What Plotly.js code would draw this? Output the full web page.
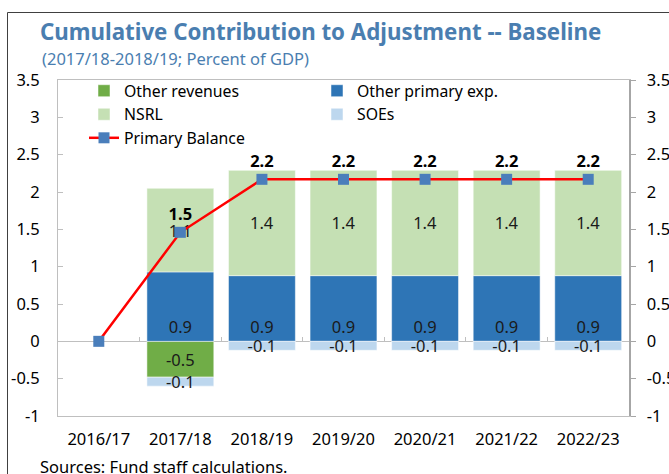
<!DOCTYPE html>
<html>
<head>
<meta charset="utf-8">
<script src="https://cdn.plot.ly/plotly-3.0.1.min.js"></script>
<style>html,body{margin:0;padding:0;background:#fff;overflow:hidden}#chart{width:669px;height:474px}</style>
</head>
<body>
<div id="chart"></div>
<script>
const categories = ['2016/17','2017/18','2018/19','2019/20','2020/21','2021/22','2022/23'];
const otherRevenues = [null, -0.48, 0, 0, 0, 0, 0];
const otherPrimaryExp = [null, 0.93, 0.88, 0.88, 0.88, 0.88, 0.88];
const nsrl = [null, 1.12, 1.41, 1.41, 1.41, 1.41, 1.41];
const soes = [null, -0.12, -0.12, -0.12, -0.12, -0.12, -0.12];
const primaryBalance = [0, 1.46, 2.17, 2.17, 2.17, 2.17, 2.17];
const primaryBalanceLabels = ['', '1.5', '2.2', '2.2', '2.2', '2.2', '2.2'];
const yTickVals = [-1, -0.5, 0, 0.5, 1, 1.5, 2, 2.5, 3, 3.5];
const yTickText = ['-1', '-0.5', '0', '0.5', '1', '1.5', '2', '2.5', '3', '3.5'];

const FONT = 'Noto Sans, Open Sans, sans-serif';
const FS = 16.5;
const lbl = arr => arr.map(v => (v === null || v === 0) ? '' : v.toFixed(1));

function barTrace(name, y, color, anchor) {
  return {
    type: 'bar', name: name, x: categories, y: y, marker: {color: color, line: {color: '#ffffff', width: 0.5}},
    text: lbl(y), textposition: 'inside', insidetextanchor: anchor, constraintext: 'none',
    textangle: 0, insidetextfont: {family: FONT, size: FS, color: '#1a1a1a'}, hoverinfo: 'x+y+name'
  };
}

const traces = [
  barTrace('Other revenues', otherRevenues, '#70AD47', 'middle'),
  barTrace('Other primary exp.', otherPrimaryExp, '#2E75B6', 'start'),
  barTrace('NSRL', nsrl, '#C5E0B4', 'middle'),
  barTrace('SOEs', soes, '#BDD7EE', 'middle'),
  {
    type: 'scatter', mode: 'lines+markers+text', name: 'Primary Balance', x: categories, y: primaryBalance,
    line: {color: '#FF0000', width: 2.5}, marker: {symbol: 'square', size: 11, color: '#4A7EBB'},
    text: primaryBalanceLabels, textposition: 'top center',
    textfont: {family: FONT, size: FS, color: '#000', weight: 'bold'}, cliponaxis: false
  },
  {type: 'scatter', x: categories, y: categories.map(() => null), xaxis: 'x2', yaxis: 'y2', showlegend: false, hoverinfo: 'skip'}
];

const layout = {
  width: 669, height: 474,
  margin: {l: 58, r: 40, t: 80, b: 58},
  paper_bgcolor: '#fff', plot_bgcolor: '#fff',
  font: {family: FONT, size: FS, color: '#000'},
  barmode: 'relative', bargap: 0.18,
  showlegend: true,
  title: {text: '<b>Cumulative Contribution to Adjustment -- Baseline</b>', x: 40/669, xanchor: 'left', xref: 'container',
          y: 1 - 32/474, yanchor: 'middle', yref: 'container', font: {family: FONT, size: 22.3, color: '#4A7EB0'}},
  annotations: [
    {text: '(2017/18-2018/19; Percent of GDP)', xref: 'paper', yref: 'paper', x: (40-58)/571, y: (416-58)/336,
     xanchor: 'left', yanchor: 'middle', showarrow: false, font: {family: FONT, size: 16.5, color: '#4A7EB0'}},
    {text: 'Sources: Fund staff calculations.', xref: 'paper', yref: 'paper', x: (38-58)/571, y: (416-467)/336,
     xanchor: 'left', yanchor: 'middle', showarrow: false, font: {family: FONT, size: FS, color: '#000'}}
  ],
  shapes: [
    {type: 'line', xref: 'paper', yref: 'paper', x0: (7.5-58)/571, x1: (7.5-58)/571, y0: -0.3, y1: (416-12.5)/336, line: {color: '#404040', width: 1}},
    {type: 'line', xref: 'paper', yref: 'paper', x0: (7.5-58)/571, x1: 1.3, y0: (416-12.5)/336, y1: (416-12.5)/336, line: {color: '#404040', width: 1}}
  ],
  legend: {orientation: 'h', x: (84-58)/571, xanchor: 'left', y: 1.018, yanchor: 'top', bgcolor: 'rgba(0,0,0,0)',
           entrywidth: 188, entrywidthmode: 'pixels', font: {family: FONT, size: 15.8, color: '#000'}, tracegroupgap: 0,
           itemwidth: 30},
  xaxis: {type: 'category', showline: true, mirror: true, linecolor: '#bfbfbf', linewidth: 1, ticks: '', showgrid: false,
          zeroline: false, tickfont: {family: FONT, size: FS}, ticklabelstandoff: 8},
  xaxis2: {type: 'category', overlaying: 'x', matches: 'x', anchor: 'free', position: (416-341)/336, showticklabels: false,
           ticks: 'inside', tickson: 'boundaries', ticklen: 4, tickcolor: '#bfbfbf', showline: false, showgrid: false, zeroline: false},
  yaxis: {range: [-1, 3.5], tickvals: yTickVals, ticktext: yTickText, showline: true, linecolor: '#bfbfbf', ticks: 'inside',
          ticklen: 5, tickcolor: '#bfbfbf', showgrid: false, zeroline: true, zerolinecolor: '#bfbfbf', zerolinewidth: 1,
          ticklabelstandoff: 14, tickfont: {family: FONT, size: FS}},
  yaxis2: {range: [-1, 3.5], overlaying: 'y', side: 'right', anchor: 'x', tickvals: yTickVals, ticktext: yTickText,
           showline: true, linecolor: '#a6a6a6', linewidth: 1.5, ticks: 'outside', ticklen: 5, tickcolor: '#a6a6a6',
           showgrid: false, zeroline: false, ticklabelstandoff: 8, tickfont: {family: FONT, size: FS}}
};

Plotly.newPlot('chart', traces, layout, {displayModeBar: false, staticPlot: true});
</script>
</body>
</html>
